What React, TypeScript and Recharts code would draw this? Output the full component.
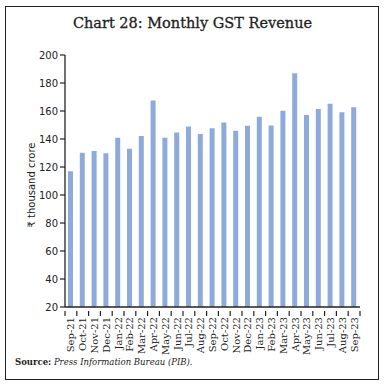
import React from 'react';
import { BarChart, Bar, XAxis, YAxis } from 'recharts';

const months = [
  'Sep-21', 'Oct-21', 'Nov-21', 'Dec-21', 'Jan-22', 'Feb-22', 'Mar-22', 'Apr-22', 'May-22',
  'Jun-22', 'Jul-22', 'Aug-22', 'Sep-22', 'Oct-22', 'Nov-22', 'Dec-22', 'Jan-23', 'Feb-23',
  'Mar-23', 'Apr-23', 'May-23', 'Jun-23', 'Jul-23', 'Aug-23', 'Sep-23',
];
const revenue = [
  117.0, 130.1, 131.5, 129.8, 140.9, 133.0, 142.1, 167.5, 140.9,
  144.6, 148.9, 143.6, 147.7, 151.7, 145.9, 149.5, 155.9, 149.6,
  160.1, 187.0, 157.1, 161.5, 165.1, 159.1, 162.7,
];
const yTicks = [20, 40, 60, 80, 100, 120, 140, 160, 180, 200];

const data = months.map((m, i) => ({ month: m, value: revenue[i] }));

const W = 385;
const H = 387;
const margin = { top: 55, right: 25, bottom: 0, left: 20 };
const yAxisWidth = 45;
const xAxisHeight = 80;
const band = (W - margin.left - margin.right - yAxisWidth) / months.length;

const MonthTick = (props: any) => {
  const { x, y, payload, index } = props;
  const left = x - band / 2;
  return (
    <g>
      <line x1={left} y1={y - 4} x2={left} y2={y + 1} stroke="#222" strokeWidth={1.2} />
      {index === months.length - 1 && (
        <line x1={x + band / 2} y1={y - 4} x2={x + band / 2} y2={y + 1} stroke="#222" strokeWidth={1.2} />
      )}
      <text
        x={x}
        y={y + 2}
        transform={`rotate(-90, ${x}, ${y + 2})`}
        textAnchor="end"
        dominantBaseline="central"
        fontFamily="DejaVu Serif"
        fontSize={10}
        fill="#222"
      >
        {payload.value}
      </text>
    </g>
  );
};

export default function App() {
  return (
    <div style={{ position: 'absolute', left: 0, top: 0, width: W, height: H, background: '#fff' }}>
      <div
        style={{
          position: 'absolute', left: 5, top: 6, width: 374, height: 374,
          border: '1.3px solid #222', boxSizing: 'border-box',
        }}
      />
      <div
        style={{
          position: 'absolute', left: 0, top: 15, width: W, textAlign: 'center',
          fontFamily: 'DejaVu Serif', fontSize: 14.5, color: '#222',
          WebkitTextStroke: '0.3px #222',
        }}
      >
        Chart 28: Monthly GST Revenue
      </div>
      <div style={{ position: 'absolute', left: 0, top: 0 }}>
        <BarChart width={W} height={H} data={data} margin={margin} barCategoryGap={0}>
          <XAxis
            dataKey="month"
            interval={0}
            tickLine={false}
            axisLine={{ stroke: '#222', strokeWidth: 1.3 }}
            tick={<MonthTick />}
            height={xAxisHeight}
          />
          <YAxis
            width={yAxisWidth}
            domain={[20, 200]}
            ticks={yTicks}
            allowDataOverflow
            tickSize={5}
            tickLine={{ stroke: '#222', strokeWidth: 1.2 }}
            axisLine={{ stroke: '#222', strokeWidth: 1.3 }}
            tick={{ fontFamily: 'DejaVu Sans', fontSize: 10, fill: '#222' }}
            label={{
              value: '₹ thousand crore', angle: -90, position: 'insideLeft', dx: 6, dy: 4,
              style: { fontFamily: 'DejaVu Sans', fontSize: 10, fill: '#222', textAnchor: 'middle' },
            }}
          />
          <Bar dataKey="value" fill="#8eaadb" barSize={5} isAnimationActive={false} />
        </BarChart>
      </div>
      <div
        style={{
          position: 'absolute', left: 15, top: 357, fontFamily: 'DejaVu Serif',
          fontSize: 8.5, color: '#222',
        }}
      >
        <b>Source:</b> <i>Press Information Bureau (PIB).</i>
      </div>
    </div>
  );
}
